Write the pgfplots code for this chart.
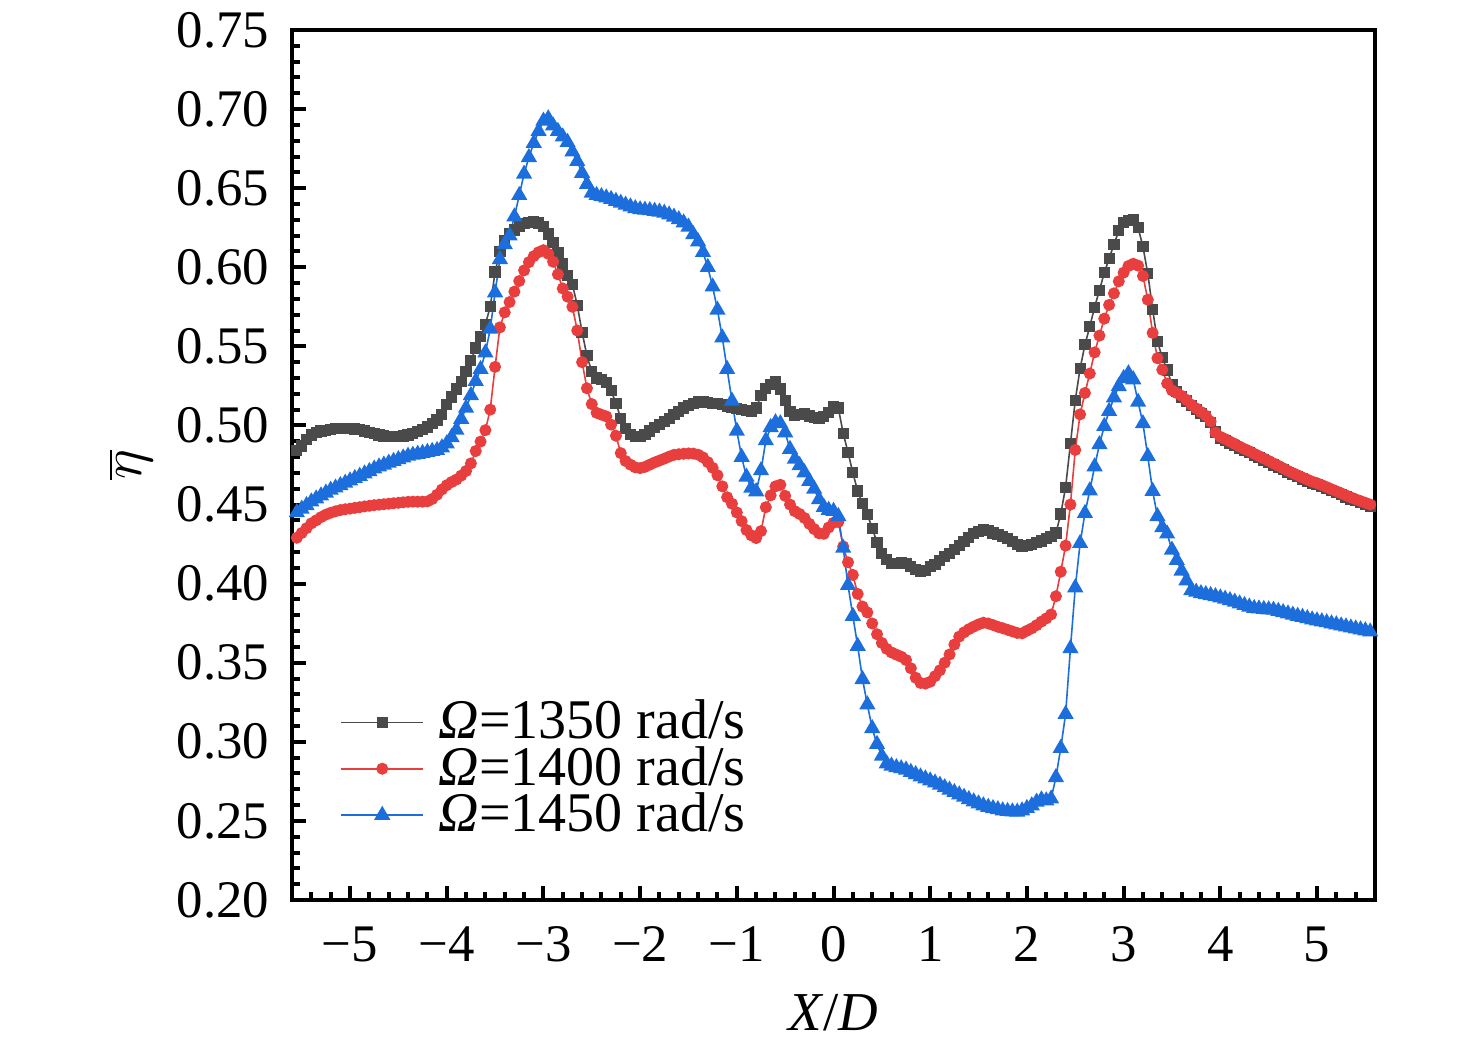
\documentclass[border=0pt]{standalone}
\usepackage{pgfplots}
\pgfplotsset{compat=1.18}
\usepackage{pgfplotstable}
\usepackage{fontspec}
\setmainfont{Liberation Serif}
\definecolor{cA}{RGB}{74,74,74}
\definecolor{cB}{RGB}{233,62,62}
\definecolor{cC}{RGB}{27,110,220}
\pgfplotstableread{
x A B C
-5.55 0.4840 0.4290 0.4450
-5.50 0.4870 0.4320 0.4472
-5.45 0.4910 0.4350 0.4495
-5.40 0.4940 0.4381 0.4518
-5.35 0.4955 0.4400 0.4537
-5.30 0.4965 0.4420 0.4556
-5.25 0.4970 0.4436 0.4574
-5.20 0.4975 0.4448 0.4592
-5.15 0.4980 0.4457 0.4606
-5.10 0.4980 0.4465 0.4621
-5.05 0.4980 0.4470 0.4636
-5.00 0.4980 0.4474 0.4651
-4.95 0.4978 0.4479 0.4666
-4.90 0.4972 0.4483 0.4680
-4.85 0.4965 0.4488 0.4695
-4.80 0.4955 0.4492 0.4710
-4.75 0.4947 0.4496 0.4726
-4.70 0.4940 0.4499 0.4739
-4.65 0.4933 0.4502 0.4751
-4.60 0.4930 0.4505 0.4763
-4.55 0.4929 0.4508 0.4774
-4.50 0.4930 0.4511 0.4785
-4.45 0.4933 0.4514 0.4796
-4.40 0.4940 0.4517 0.4807
-4.35 0.4950 0.4518 0.4813
-4.30 0.4960 0.4518 0.4819
-4.25 0.4972 0.4518 0.4825
-4.20 0.4990 0.4520 0.4831
-4.15 0.5010 0.4535 0.4837
-4.10 0.5035 0.4562 0.4843
-4.05 0.5070 0.4595 0.4860
-4.00 0.5130 0.4622 0.4885
-3.95 0.5180 0.4642 0.4925
-3.90 0.5230 0.4658 0.4971
-3.85 0.5280 0.4683 0.5040
-3.80 0.5340 0.4712 0.5110
-3.75 0.5410 0.4760 0.5190
-3.70 0.5490 0.4838 0.5280
-3.65 0.5560 0.4898 0.5355
-3.60 0.5640 0.4970 0.5460
-3.55 0.5750 0.5100 0.5610
-3.50 0.5970 0.5370 0.5840
-3.45 0.6100 0.5620 0.6050
-3.40 0.6170 0.5715 0.6145
-3.35 0.6210 0.5780 0.6200
-3.30 0.6235 0.5846 0.6320
-3.25 0.6260 0.5913 0.6455
-3.20 0.6275 0.5980 0.6590
-3.15 0.6285 0.6032 0.6695
-3.10 0.6288 0.6070 0.6785
-3.05 0.6280 0.6095 0.6860
-3.00 0.6260 0.6108 0.6925
-2.95 0.6210 0.6085 0.6940
-2.90 0.6155 0.6035 0.6895
-2.85 0.6090 0.5955 0.6860
-2.80 0.6020 0.5866 0.6825
-2.75 0.5950 0.5814 0.6790
-2.70 0.5890 0.5750 0.6730
-2.65 0.5760 0.5600 0.6670
-2.60 0.5590 0.5400 0.6595
-2.55 0.5440 0.5235 0.6525
-2.50 0.5340 0.5135 0.6470
-2.45 0.5300 0.5080 0.6455
-2.40 0.5290 0.5068 0.6448
-2.35 0.5270 0.5057 0.6440
-2.30 0.5220 0.5005 0.6430
-2.25 0.5140 0.4935 0.6418
-2.20 0.5045 0.4825 0.6406
-2.15 0.4980 0.4775 0.6394
-2.10 0.4945 0.4752 0.6383
-2.05 0.4932 0.4735 0.6372
-2.00 0.4929 0.4730 0.6365
-1.95 0.4945 0.4738 0.6362
-1.90 0.4965 0.4752 0.6359
-1.85 0.4985 0.4766 0.6355
-1.80 0.5005 0.4778 0.6350
-1.75 0.5025 0.4790 0.6343
-1.70 0.5045 0.4803 0.6332
-1.65 0.5070 0.4814 0.6318
-1.60 0.5090 0.4818 0.6302
-1.55 0.5110 0.4821 0.6282
-1.50 0.5125 0.4823 0.6255
-1.45 0.5140 0.4822 0.6208
-1.40 0.5150 0.4815 0.6162
-1.35 0.5148 0.4798 0.6095
-1.30 0.5145 0.4768 0.6000
-1.25 0.5140 0.4732 0.5877
-1.20 0.5138 0.4685 0.5730
-1.15 0.5130 0.4615 0.5555
-1.10 0.5122 0.4546 0.5355
-1.05 0.5115 0.4505 0.5155
-1.00 0.5108 0.4450 0.4965
-0.95 0.5100 0.4395 0.4800
-0.90 0.5095 0.4339 0.4675
-0.85 0.5088 0.4305 0.4605
-0.80 0.5110 0.4288 0.4582
-0.75 0.5190 0.4332 0.4715
-0.70 0.5235 0.4483 0.4905
-0.65 0.5260 0.4558 0.4988
-0.60 0.5275 0.4615 0.5018
-0.55 0.5230 0.4625 0.5012
-0.50 0.5160 0.4555 0.4955
-0.45 0.5090 0.4500 0.4850
-0.40 0.5065 0.4458 0.4788
-0.35 0.5070 0.4440 0.4748
-0.30 0.5075 0.4415 0.4702
-0.25 0.5060 0.4378 0.4648
-0.20 0.5048 0.4345 0.4598
-0.15 0.5045 0.4318 0.4532
-0.10 0.5055 0.4315 0.4484
-0.05 0.5080 0.4355 0.4465
0.00 0.5120 0.4385 0.4458
0.05 0.5110 0.4390 0.4425
0.10 0.4950 0.4235 0.4225
0.15 0.4830 0.4135 0.3990
0.20 0.4700 0.4055 0.3795
0.25 0.4585 0.3935 0.3605
0.30 0.4505 0.3855 0.3395
0.35 0.4438 0.3818 0.3235
0.40 0.4350 0.3748 0.3085
0.45 0.4260 0.3680 0.2985
0.50 0.4190 0.3625 0.2910
0.55 0.4155 0.3588 0.2862
0.60 0.4125 0.3565 0.2848
0.65 0.4128 0.3551 0.2838
0.70 0.4135 0.3538 0.2831
0.75 0.4128 0.3517 0.2823
0.80 0.4110 0.3465 0.2808
0.85 0.4090 0.3405 0.2794
0.90 0.4075 0.3372 0.2779
0.95 0.4085 0.3368 0.2767
1.00 0.4110 0.3380 0.2754
1.05 0.4120 0.3415 0.2741
1.10 0.4145 0.3452 0.2727
1.15 0.4170 0.3500 0.2711
1.20 0.4190 0.3552 0.2696
1.25 0.4215 0.3615 0.2681
1.30 0.4240 0.3665 0.2666
1.35 0.4265 0.3692 0.2651
1.40 0.4290 0.3712 0.2636
1.45 0.4315 0.3728 0.2622
1.50 0.4330 0.3742 0.2609
1.55 0.4340 0.3753 0.2597
1.60 0.4335 0.3748 0.2587
1.65 0.4320 0.3738 0.2579
1.70 0.4310 0.3727 0.2572
1.75 0.4298 0.3718 0.2565
1.80 0.4283 0.3708 0.2561
1.85 0.4268 0.3698 0.2558
1.90 0.4248 0.3688 0.2557
1.95 0.4233 0.3686 0.2565
2.00 0.4240 0.3702 0.2580
2.05 0.4248 0.3717 0.2597
2.10 0.4258 0.3737 0.2620
2.15 0.4270 0.3760 0.2634
2.20 0.4284 0.3780 0.2628
2.25 0.4297 0.3805 0.2640
2.30 0.4320 0.3920 0.2775
2.35 0.4440 0.4075 0.2960
2.40 0.4610 0.4240 0.3175
2.45 0.4885 0.4500 0.3590
2.50 0.5160 0.4845 0.3975
2.55 0.5360 0.5070 0.4255
2.60 0.5510 0.5205 0.4445
2.65 0.5625 0.5328 0.4588
2.70 0.5748 0.5462 0.4740
2.75 0.5855 0.5568 0.4880
2.80 0.5965 0.5675 0.4995
2.85 0.6055 0.5762 0.5090
2.90 0.6145 0.5835 0.5176
2.95 0.6230 0.5911 0.5247
3.00 0.6283 0.5966 0.5298
3.05 0.6295 0.6008 0.5328
3.10 0.6299 0.6022 0.5290
3.15 0.6250 0.6010 0.5148
3.20 0.6130 0.5945 0.5012
3.25 0.5960 0.5795 0.4805
3.30 0.5735 0.5585 0.4585
3.35 0.5530 0.5425 0.4425
3.40 0.5430 0.5352 0.4355
3.45 0.5350 0.5265 0.4315
3.50 0.5260 0.5222 0.4213
3.55 0.5215 0.5205 0.4148
3.60 0.5180 0.5187 0.4081
3.65 0.5155 0.5162 0.4019
3.70 0.5125 0.5131 0.3957
3.75 0.5100 0.5108 0.3947
3.80 0.5078 0.5085 0.3938
3.85 0.5055 0.5062 0.3932
3.90 0.5020 0.5025 0.3926
3.95 0.4958 0.4955 0.3919
4.00 0.4918 0.4928 0.3911
4.05 0.4904 0.4914 0.3903
4.10 0.4888 0.4898 0.3894
4.15 0.4873 0.4883 0.3884
4.20 0.4856 0.4866 0.3873
4.25 0.4841 0.4851 0.3863
4.30 0.4827 0.4837 0.3853
4.35 0.4811 0.4821 0.3844
4.40 0.4796 0.4806 0.3841
4.45 0.4781 0.4791 0.3838
4.50 0.4766 0.4776 0.3836
4.55 0.4750 0.4760 0.3833
4.60 0.4735 0.4745 0.3826
4.65 0.4719 0.4729 0.3818
4.70 0.4703 0.4713 0.3810
4.75 0.4689 0.4699 0.3802
4.80 0.4675 0.4685 0.3795
4.85 0.4661 0.4671 0.3788
4.90 0.4648 0.4658 0.3780
4.95 0.4635 0.4645 0.3772
5.00 0.4625 0.4635 0.3766
5.05 0.4613 0.4623 0.3760
5.10 0.4600 0.4610 0.3754
5.15 0.4587 0.4597 0.3747
5.20 0.4574 0.4584 0.3741
5.25 0.4561 0.4571 0.3734
5.30 0.4548 0.4558 0.3728
5.35 0.4535 0.4545 0.3721
5.40 0.4523 0.4533 0.3715
5.45 0.4512 0.4522 0.3709
5.50 0.4501 0.4511 0.3703
5.55 0.4490 0.4500 0.3696
}\datatab
\begin{document}
\fontsize{13.7}{16}\selectfont
\begin{tikzpicture}
\begin{axis}[
  name=ax,
  at={(0,0)}, anchor=south west,
  scale only axis,
  width=270.75pt, height=217.5pt,
  xmin=-5.6, xmax=5.6, ymin=0.2, ymax=0.75,
  axis line style={line width=1pt},
  every tick/.style={line width=1pt, black},
  tick align=inside, tick pos=left,
  major tick length=3.5pt, minor tick length=2pt,
  xtick={-5,-4,-3,-2,-1,0,1,2,3,4,5},
  xticklabels={−5,−4,−3,−2,−1,0,1,2,3,4,5},
  minor xtick={-5.4,-5.2,...,5.5},
  ytick={0.20,0.25,0.30,0.35,0.40,0.45,0.50,0.55,0.60,0.65,0.70,0.75},
  yticklabels={0.20,0.25,0.30,0.35,0.40,0.45,0.50,0.55,0.60,0.65,0.70,0.75},
  minor y tick num=4,
  ticklabel style={font=\fontsize{13.2}{16}\selectfont, inner sep=0pt},
  xticklabel style={anchor=north, yshift=-6.5pt},
  yticklabel style={anchor=east, xshift=-5.5pt},
  xlabel={\textit{X}/\textit{D}},
  ylabel={$\overline{\eta}$},
  xlabel style={at={(axis description cs:0.5,-0.129)}, anchor=center, inner sep=0pt},
  ylabel style={at={(axis description cs:-0.149,0.5)}, anchor=center, inner sep=0pt, rotate=0},
  label style={font=\fontsize{13.7}{16}\selectfont},
  legend style={at={(0.044,0.2295)}, anchor=north west, draw=none, fill=none,
    inner sep=0pt, row sep=0pt, font=\fontsize{14}{16}\selectfont,
    nodes={inner sep=0pt, text height=9.4pt, text depth=2.2pt}},
  legend cell align=left,
  legend image code/.code={\draw[mark repeat=2,mark phase=2] plot coordinates {(0pt,0.5pt) (10.25pt,0.5pt) (20.5pt,0.5pt)};
    \path (24.2pt,0.5pt);},
]
\addplot[color=cA, line width=0.4pt, mark=square*, mark size=1.2pt, mark options={solid}] table[x=x,y=A]{\datatab};
\addlegendentry{{\itshape Ω}=1350 rad/s}
\addplot[color=cB, line width=0.4pt, mark=*, mark size=1.3pt, mark options={solid}] table[x=x,y=B]{\datatab};
\addlegendentry{{\itshape Ω}=1400 rad/s}
\addplot[color=cC, line width=0.4pt, mark=triangle*, mark size=1.95pt, mark options={solid}] table[x=x,y=C]{\datatab};
\addlegendentry{{\itshape Ω}=1450 rad/s}
\end{axis}
\path ([shift={(-73pt,-36pt)}]ax.south west) rectangle ++(369pt,261pt);
\end{tikzpicture}
\end{document}
